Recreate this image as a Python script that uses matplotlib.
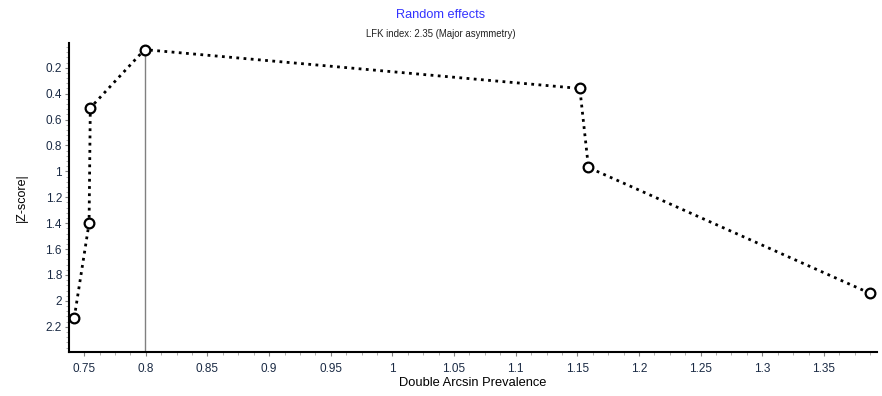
import numpy as np
import matplotlib
matplotlib.use("Agg")
import matplotlib.pyplot as plt
from matplotlib.ticker import AutoMinorLocator

# Doi plot points (double arcsin prevalence, |Z-score|)
prevalence = [0.742, 0.754, 0.755, 0.799, 1.152, 1.159, 1.387]
zscore = [2.13, 1.40, 0.51, 0.06, 0.36, 0.97, 1.94]
x_ticks = [0.75, 0.8, 0.85, 0.9, 0.95, 1.0, 1.05, 1.1, 1.15, 1.2, 1.25, 1.3, 1.35]
y_ticks = [0.2, 0.4, 0.6, 0.8, 1.0, 1.2, 1.4, 1.6, 1.8, 2.0, 2.2]

plt.rcParams['font.family'] = ['Liberation Sans', 'DejaVu Sans']

fig = plt.figure(figsize=(8.82, 3.96), dpi=100)
ax = fig.add_axes([0.0782, 0.111, 0.9161, 0.7804])

# vertical line at the point with the smallest |Z|
i_min = int(np.argmin(zscore))
ax.plot([prevalence[i_min], prevalence[i_min]], [zscore[i_min], 2.395],
        color='#808080', linewidth=1, zorder=1)

ax.plot(prevalence, zscore, linestyle=(0, (1, 1.6)), color='black', linewidth=2,
        marker='o', markersize=7, markerfacecolor='white', markeredgecolor='black',
        markeredgewidth=1.6, zorder=2)

ax.set_xlim(0.7377, 1.393)
ax.set_ylim(2.395, 0.009)

ax.set_xticks(x_ticks)
ax.set_xticklabels([('%g' % v) for v in x_ticks])
ax.set_yticks(y_ticks)
ax.set_yticklabels([('%g' % v) for v in y_ticks])
ax.xaxis.set_minor_locator(AutoMinorLocator(4))
ax.yaxis.set_minor_locator(AutoMinorLocator(5))

ax.spines['top'].set_visible(False)
ax.spines['right'].set_visible(False)
ax.spines['left'].set_linewidth(1.5)
ax.spines['bottom'].set_linewidth(1.5)

ax.tick_params(axis='both', which='major', labelsize=8.5, length=3, width=0.8,
               color='#808080', labelcolor='#1a2a44', direction='out', pad=2)
ax.tick_params(axis='x', which='major', pad=5)
ax.tick_params(axis='both', which='minor', length=2, width=0.6, color='#a0a0a0',
               direction='out')

ax.set_xlabel('Double Arcsin Prevalence', fontsize=9.3, labelpad=1)
ax.set_ylabel('|Z-score|', fontsize=9, labelpad=13)

fig.text(0.5, 0.962, 'Random effects', ha='center', va='center',
         fontsize=9.2, color='#3333ff')
fig.text(0.5, 0.915, 'LFK index: 2.35 (Major asymmetry)', ha='center',
         va='center', fontsize=6.9, color='#222222')

fig.savefig('out.png', dpi=100)
